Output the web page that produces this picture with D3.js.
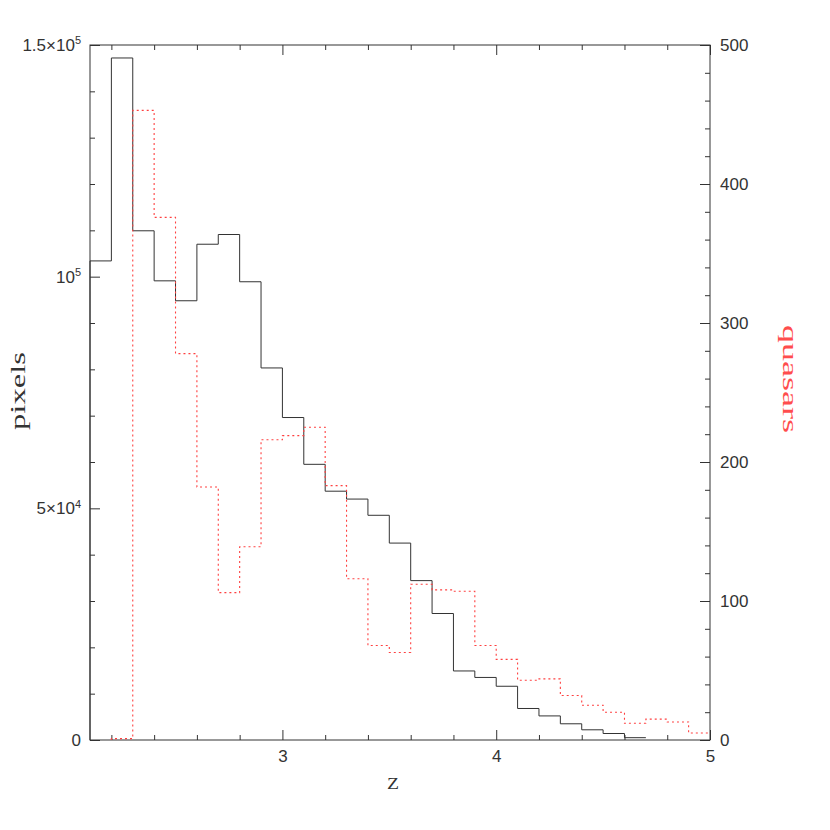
<!DOCTYPE html>
<html>
<head>
<meta charset="utf-8">
<script src="https://cdn.jsdelivr.net/npm/d3@7"></script>
<style>
  body { margin: 0; background: #fff; }
  svg text { fill: #333; }
</style>
</head>
<body>
<div id="chart"></div>
<script>
// bin lower edges (bin width 0.1)
const zBins = [2.1, 2.2, 2.3, 2.4, 2.5, 2.6, 2.7, 2.8, 2.9, 3.0, 3.1, 3.2, 3.3, 3.4, 3.5,
    3.6, 3.7, 3.8, 3.9, 4.0, 4.1, 4.2, 4.3, 4.4, 4.5, 4.6, 4.7, 4.8, 4.9]
const binWidth = 0.1

// pixels per bin (left axis), null where not drawn
const pixels = [103400, 147200, 109900, 99100, 94800, 107000, 109100, 98900, 80300, 69600,
    59500, 53700, 52000, 48500, 42500, 34400, 27300, 14900, 13500, 11600,
    6800, 5200, 3500, 2200, 1400, 500, null, null, null]

// quasars per bin (right axis)
const quasars = [null, 1, 453, 376, 278, 182, 106, 139, 216, 219,
    225, 183, 116, 68, 63, 112, 108, 107, 68, 58,
    43, 44, 32, 25, 20, 12, 15, 13, 5]

const xMajor = [3, 4, 5]
const xMinor = [2.2, 2.4, 2.6, 2.8, 3.2, 3.4, 3.6, 3.8, 4.2, 4.4, 4.6, 4.8]
const leftMajor = [0, 50000, 100000, 150000]
const leftLabels = [["0", null], ["5×10", "4"], ["10", "5"], ["1.5×10", "5"]]
const leftMinor = d3.range(10000, 150000, 10000).filter(v => v % 50000 != 0)
const rightMajor = [0, 100, 200, 300, 400, 500]
const rightMinor = d3.range(20, 500, 20).filter(v => v % 100 != 0)

const width = 830, height = 830
const plotLeft = 90, plotRight = 710, plotTop = 45, plotBottom = 740

const svg = d3.select('#chart').append('svg')
    .attr('width', width)
    .attr('height', height)

const x = d3.scaleLinear().domain([2.1, 5]).range([plotLeft, plotRight])
const yL = d3.scaleLinear().domain([0, 150000]).range([plotBottom, plotTop])
const yR = d3.scaleLinear().domain([0, 500]).range([plotBottom, plotTop])

const tickFont = 'Liberation Sans, Arial, sans-serif'

function styleAxis(g) {
    g.select('.domain').remove()
    g.selectAll('line').attr('stroke', '#333')
    g.selectAll('text')
        .attr('font-family', tickFont)
        .attr('font-size', 17)
        .attr('fill', '#333')
}

// bottom axis
svg.append('g').attr('transform', `translate(0,${plotBottom})`)
    .call(d3.axisBottom(x).tickValues(xMajor).tickSize(-10).tickSizeOuter(0).tickPadding(10).tickFormat(d3.format('d')))
    .call(styleAxis)
svg.append('g').attr('transform', `translate(0,${plotBottom})`)
    .call(d3.axisBottom(x).tickValues(xMinor).tickSize(-5).tickSizeOuter(0).tickFormat(''))
    .call(styleAxis)
// top axis
svg.append('g').attr('transform', `translate(0,${plotTop})`)
    .call(d3.axisTop(x).tickValues(xMajor).tickSize(-10).tickSizeOuter(0).tickFormat(''))
    .call(styleAxis)
svg.append('g').attr('transform', `translate(0,${plotTop})`)
    .call(d3.axisTop(x).tickValues(xMinor).tickSize(-5).tickSizeOuter(0).tickFormat(''))
    .call(styleAxis)
// left axis
svg.append('g').attr('transform', `translate(${plotLeft},0)`)
    .call(d3.axisLeft(yL).tickValues(leftMajor).tickSize(-10).tickSizeOuter(0).tickFormat(''))
    .call(styleAxis)
svg.append('g').attr('transform', `translate(${plotLeft},0)`)
    .call(d3.axisLeft(yL).tickValues(leftMinor).tickSize(-5).tickSizeOuter(0).tickFormat(''))
    .call(styleAxis)
// right axis
svg.append('g').attr('transform', `translate(${plotRight},0)`)
    .call(d3.axisRight(yR).tickValues(rightMajor).tickSize(-10).tickSizeOuter(0).tickPadding(10))
    .call(styleAxis)
svg.append('g').attr('transform', `translate(${plotRight},0)`)
    .call(d3.axisRight(yR).tickValues(rightMinor).tickSize(-5).tickSizeOuter(0).tickFormat(''))
    .call(styleAxis)

// left labels with superscripts
const leftText = svg.append('g').selectAll('text')
    .data(leftMajor)
    .enter()
    .append('text')
    .attr('font-family', tickFont)
    .attr('font-size', 17)
    .attr('text-anchor', 'end')
    .attr('x', plotLeft - 9)
    .attr('y', d => yL(d))
    .attr('dy', '0.35em')
leftText.each(function (d, i) {
    const [base, sup] = leftLabels[i]
    const t = d3.select(this)
    t.append('tspan').text(base)
    if (sup) {
        t.append('tspan').attr('font-size', 11).attr('dy', '-0.6em').text(sup)
    }
})

// frame
svg.append('rect')
    .attr('x', plotLeft).attr('y', plotTop)
    .attr('width', plotRight - plotLeft).attr('height', plotBottom - plotTop)
    .attr('fill', 'none')
    .attr('stroke', '#333')
    .attr('stroke-width', 1)

function stepPath(values, yScale) {
    const bins = zBins.map((z, i) => ({ z: z, v: values[i] })).filter(d => d.v != null)
    let p = ''
    bins.forEach((d, i) => {
        const x0 = x(d.z), x1 = x(d.z + binWidth), yy = yScale(d.v)
        if (i == 0) { p += `M${x0},${yScale(0)}V${yy}` }
        else { p += `V${yy}` }
        p += `H${x1}`
    })
    return p
}

svg.append('path')
    .attr('d', stepPath(pixels, yL))
    .attr('fill', 'none')
    .attr('stroke', '#333')
    .attr('stroke-width', 1)

svg.append('path')
    .attr('d', stepPath(quasars, yR))
    .attr('fill', 'none')
    .attr('stroke', '#ff4040')
    .attr('stroke-width', 1.1)
    .attr('stroke-dasharray', '2,3')

// axis titles
svg.append('text')
    .attr('font-family', 'Liberation Serif, Times New Roman, serif')
    .attr('font-size', 17)
    .attr('text-anchor', 'middle')
    .attr('textLength', 12)
    .attr('lengthAdjust', 'spacingAndGlyphs')
    .attr('x', 393).attr('y', 789)
    .text('Z')

svg.append('text')
    .attr('font-family', 'Liberation Serif, Times New Roman, serif')
    .attr('font-size', 21)
    .attr('text-anchor', 'middle')
    .attr('textLength', 78)
    .attr('lengthAdjust', 'spacingAndGlyphs')
    .attr('transform', 'translate(25,391) rotate(-90)')
    .text('pixels')

svg.append('text')
    .attr('font-family', 'Liberation Serif, Times New Roman, serif')
    .attr('font-size', 21)
    .attr('text-anchor', 'middle')
    .attr('textLength', 108)
    .attr('lengthAdjust', 'spacingAndGlyphs')
    .attr('transform', 'translate(783,379) rotate(90)')
    .style('fill', '#ff4d4d')
    .text('quasars')
</script>
</body>
</html>
